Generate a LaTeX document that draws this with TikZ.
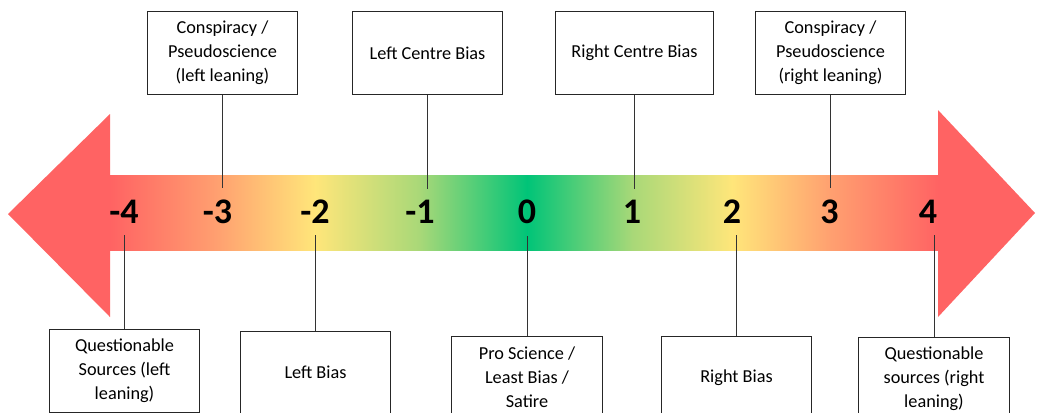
\documentclass[tikz,border=0pt]{standalone}
\usepackage{fontspec}
\setmainfont{Carlito}
\definecolor{barred}{RGB}{255,99,99}
\definecolor{barorange}{RGB}{255,160,112}
\definecolor{baryellow}{RGB}{255,230,122}
\definecolor{barlime}{RGB}{168,216,120}
\definecolor{bargreen}{RGB}{0,196,120}

\begin{document}
\begin{tikzpicture}
[x=0.75pt, y=-0.75pt,
 catbox/.style={draw=black!85, line width=0.7pt, fill=white, align=center,
   minimum width=113pt, minimum height=62.25pt, inner sep=2pt,
   font=\fontsize{13.7}{18}\selectfont},
 score/.style={font=\fontsize{27}{30}\selectfont\bfseries, inner xsep=0pt, inner ysep=8.5pt},
 tick/.style={draw=black!80, line width=0.7pt}]
\useasboundingbox (0,0) rectangle (1038,412);
\clip (0,0) rectangle (1038,412);

\foreach \xa/\xb/\ca/\cb in {110/217.5/barred/barorange, 217/315.5/barorange/baryellow,
  315/420.5/baryellow/barlime, 420/527.5/barlime/bargreen, 527/632.5/bargreen/barlime,
  632/732.5/barlime/baryellow, 732/830.5/baryellow/barorange, 830/938.5/barorange/barred}
  \shade[left color=\ca, right color=\cb] (\xa,175) rectangle (\xb,250);

\fill[barred] (110,114) -- (8,214) -- (110,317) -- cycle;
\fill[barred] (938,110) -- (1035,213) -- (938,317) -- cycle;

\foreach \v/\x/\nm in {-4/124/l4, -3/217.5/l3, -2/315/l2, -1/420/l1, 0/527/z0,
  1/632/r1, 2/732/r2, 3/829.5/r3, 4/928/r4}
  \node[score] (\nm) at (\x,212) {\v};

\node[catbox] (cpl) at (222.5,53) {Conspiracy /\\Pseudoscience\\(left leaning)};
\node[catbox] (lcb) at (427.5,53) {Left Centre Bias};
\node[catbox, minimum width=118pt] (rcb) at (634.5,53) {Right Centre Bias};
\node[catbox] (cpr) at (830.5,53) {Conspiracy /\\Pseudoscience\\(right leaning)};

\node[catbox] (qsl) at (124.5,370.5) {Questionable\\Sources (left\\leaning)};
\node[catbox] (lb) at (315.5,372.5) {Left Bias};
\node[catbox] (psb) at (527,377.5) {Pro Science /\\Least Bias /\\Satire};
\node[catbox] (rb) at (736.5,377.5) {Right Bias};
\node[catbox] (qsr) at (934,378.5) {Questionable\\sources (right\\leaning)};

\foreach \bx/\nm in {cpl/l3, lcb/l1, rcb/r1, cpr/r3}
  \draw[tick] (\bx.south) -- (\bx.south |- \nm.north);
\foreach \bx/\nm in {qsl/l4, lb/l2, psb/z0, rb/r2, qsr/r4}
  \draw[tick] (\bx.north) -- (\bx.north |- \nm.south);
\end{tikzpicture}
\end{document}
